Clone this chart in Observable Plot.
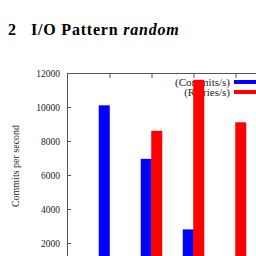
<!DOCTYPE html>
<html>
<head>
<meta charset="utf-8">
<script src="https://cdn.jsdelivr.net/npm/d3@7"></script>
<script src="https://cdn.jsdelivr.net/npm/@observablehq/plot@0.6"></script>
<style>
  html, body { margin: 0; padding: 0; background: #fff; overflow: hidden; }
  #wrap { position: relative; width: 256px; height: 256px; overflow: hidden; }
  #title { position: absolute; left: 8px; top: 21px; font-family: "Liberation Serif", serif; font-weight: bold; font-size: 16px; white-space: nowrap; color: #000; letter-spacing: 0.8px; }
  #title .num { display: inline-block; width: 23px; }
  #ylabel { position: absolute; left: 15px; top: 166px; transform: translate(-50%, -50%) rotate(-90deg); font-family: "Liberation Serif", serif; font-size: 10px; white-space: nowrap; color: #222; }
  .leg { position: absolute; font-family: "Liberation Serif", serif; font-size: 11px; white-space: nowrap; color: #222; text-align: right; width: 120px; line-height: 10px; height: 10px; }
  .sw { position: absolute; width: 36px; height: 4px; }
  #wrap svg { position: absolute; left: 0; top: 0; max-width: none !important; }
</style>
</head>
<body>
<div id="wrap">
  <div id="title"><span class="num">2</span>I/O Pattern <i>random</i></div>
  <div id="ylabel">Commits per second</div>
</div>
<script>
const categories = ["1", "2", "3", "4"];
const commits = [10100, 6950, 2800, 0];
const retries = [0, 8600, 11600, 9100];
const yTicks = [2000, 4000, 6000, 8000, 10000, 12000];
const seriesNames = ["(Commits/s)", "(Retries/s)"];
const seriesColors = ["#0000ff", "#ff0000"];

const rows = categories.map((c, i) => ({cat: c, commits: commits[i], retries: retries[i]}));

const wrap = document.getElementById("wrap");

// legend (drawn beneath the plot, as in the reference where bars overlap it)
seriesNames.forEach((name, i) => {
  const t = document.createElement("div");
  t.className = "leg";
  t.textContent = name;
  t.style.left = (230 - 120) + "px";
  t.style.top = (77 + i * 10) + "px";
  wrap.appendChild(t);
  const s = document.createElement("div");
  s.className = "sw";
  s.style.background = seriesColors[i];
  s.style.left = "234px";
  s.style.top = (80 + i * 10) + "px";
  wrap.appendChild(s);
});

const chart = Plot.plot({
  width: 300,
  height: 300,
  marginLeft: 67,
  marginRight: 23,
  marginTop: 73,
  marginBottom: 23,
  style: {fontFamily: "'Liberation Serif', serif", fontSize: "9.5px", background: "transparent", color: "#222", maxWidth: "none"},
  x: {type: "band", domain: categories, paddingInner: 0.75, paddingOuter: 0.875},
  y: {domain: [0, 12000]},
  marks: [
    Plot.barY(rows, {x: "cat", y: "commits", fill: seriesColors[0], dx: -5.25}),
    Plot.barY(rows, {x: "cat", y: "retries", fill: seriesColors[1], dx: 5.25}),
    Plot.frame({stroke: "#555"}),
    Plot.axisY(yTicks, {tickSize: 0, tickPadding: 7.5, tickFormat: d => String(d), label: null}),
    Plot.axisY(yTicks, {tickSize: 4, dx: 4, tickFormat: () => "", label: null, stroke: "#555"}),
    Plot.axisX({anchor: "top", tickSize: 4, dy: 4, tickFormat: () => "", label: null, stroke: "#555"})
  ]
});
chart.setAttribute("width", 300);
chart.setAttribute("height", 300);
wrap.appendChild(chart);
</script>
</body>
</html>
